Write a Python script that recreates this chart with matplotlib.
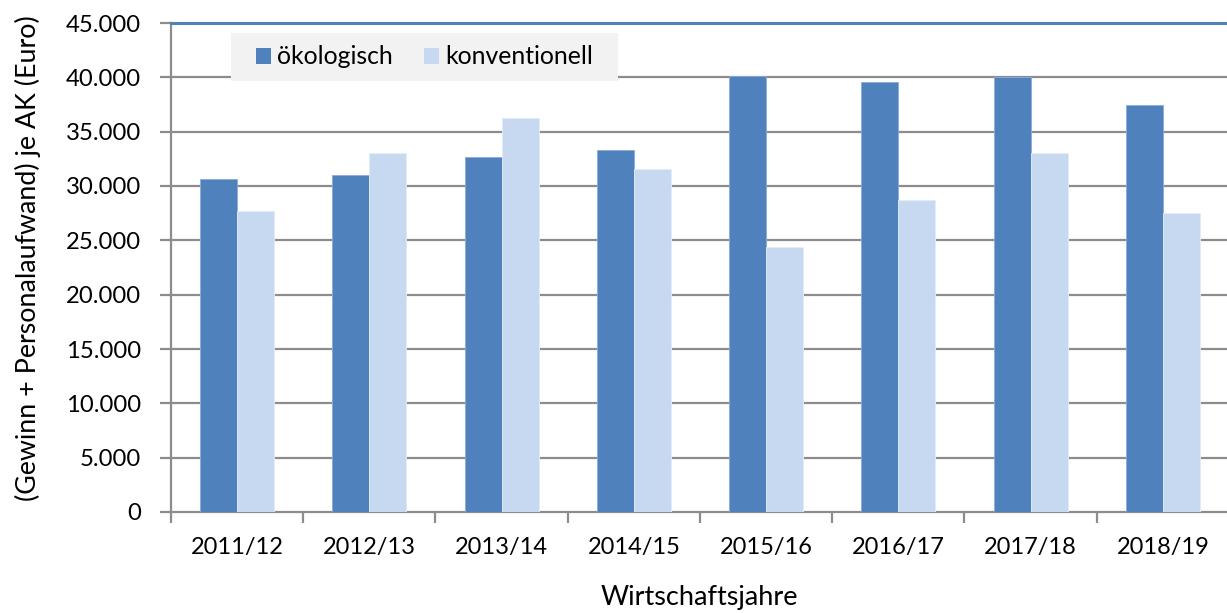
import matplotlib
matplotlib.use("Agg")
import matplotlib.pyplot as plt
import numpy as np
from matplotlib.ticker import FuncFormatter, FixedLocator
from matplotlib.patches import Patch, Rectangle

plt.rcParams['font.family'] = ['Lato', 'DejaVu Sans']

categories = ["2011/12", "2012/13", "2013/14", "2014/15", "2015/16", "2016/17", "2017/18", "2018/19"]
oekologisch = [30600, 31000, 32700, 33300, 40100, 39600, 40000, 37500]
konventionell = [27700, 33000, 36300, 31600, 24400, 28700, 33000, 27500]
series_names = ["ökologisch", "konventionell"]
y_ticks = [0, 5000, 10000, 15000, 20000, 25000, 30000, 35000, 40000, 45000]

c_oek = "#4F81BD"
c_konv = "#C6D9F1"
grid_c = "#8C8C8C"

W, H = 1227, 613
AX_L, AX_R, AX_T, AX_B = 171, 1229, 23, 512
AW, AH = AX_R - AX_L, AX_B - AX_T
fig = plt.figure(figsize=(W / 100, H / 100), dpi=100)
ax = fig.add_axes([AX_L / W, (H - AX_B) / H, AW / W, AH / H])

def ax_xy(px, py):
    return (px - AX_L) / AW, (AX_B - py) / AH

x = np.arange(len(categories))
bw = 0.28
ax.bar(x - bw / 2, oekologisch, bw, color=c_oek, edgecolor="#8EAADB", linewidth=0.6, zorder=3)
ax.bar(x + bw / 2, konventionell, bw, color=c_konv, edgecolor="#E3ECF8", linewidth=0.6, zorder=3)

ax.set_xlim(-0.5, len(categories) - 0.5)
ax.set_ylim(0, 45000)

ax.yaxis.set_major_locator(FixedLocator(y_ticks))
ax.yaxis.set_major_formatter(FuncFormatter(lambda v, p: f"{int(v):,}".replace(",", ".")))
for t in y_ticks[1:-1]:
    ax.axhline(t, color=grid_c, linewidth=1.6, zorder=1)

ax.set_xticks(x)
ax.set_xticklabels(categories)
ax.set_xticks(np.arange(-0.5, len(categories) + 0.5, 1), minor=True)
ax.tick_params(axis='x', which='major', length=0, pad=18, labelsize=17)
ax.tick_params(axis='x', which='minor', length=8, width=1.6, color=grid_c, direction='out')
ax.tick_params(axis='y', which='major', length=8, width=1.6, color=grid_c, direction='out', pad=13.5, labelsize=17.2)

for s in ['left', 'bottom']:
    ax.spines[s].set_color(grid_c)
    ax.spines[s].set_linewidth(1.6)
ax.spines['right'].set_visible(False)
ax.spines['top'].set_color(c_oek)
ax.spines['top'].set_linewidth(2.2)

ax.set_xlabel("Wirtschaftsjahre", fontsize=19.5)
ax.xaxis.set_label_coords(*ax_xy(699, 598))
ax.xaxis.label.set_va('center')
ax.set_ylabel("(Gewinn + Personalaufwand) je AK (Euro)", fontsize=19.3)
ax.yaxis.set_label_coords(*ax_xy(28, 258))
ax.yaxis.label.set_va('center')

# legend background box
lx0, ly0 = ax_xy(231, 81)
lx1, ly1 = ax_xy(618, 33)
ax.add_patch(Rectangle((lx0, ly0), lx1 - lx0, ly1 - ly0, transform=ax.transAxes,
                       facecolor="#F2F2F2", edgecolor="none", zorder=4))
handles = [Patch(facecolor=c_oek, label=series_names[0]), Patch(facecolor=c_konv, label=series_names[1])]
leg = ax.legend(handles=handles, loc='center', bbox_to_anchor=((lx0 + lx1) / 2, (ly0 + ly1) / 2),
                ncol=2, frameon=False, fontsize=17.8, handlelength=0.6, handleheight=0.6,
                handletextpad=0.25, columnspacing=1.25, borderpad=0, borderaxespad=0)
leg.set_zorder(5)

fig.savefig("out.png", dpi=100)
